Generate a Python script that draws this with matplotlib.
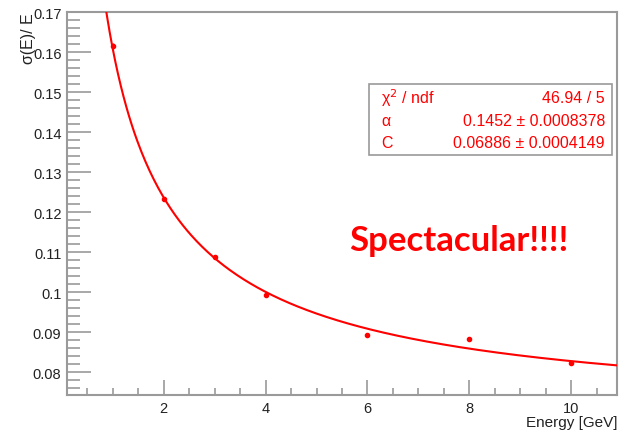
import numpy as np
import matplotlib
matplotlib.use("Agg")
import matplotlib.pyplot as plt
from matplotlib.ticker import MultipleLocator, FuncFormatter

# measured points (energy in GeV, relative resolution)
energy = [1, 2, 3, 4, 6, 8, 10]
resolution = [0.1615, 0.1233, 0.1088, 0.0993, 0.0893, 0.0884, 0.0824]
res_err = [0.0008, 0.0006, 0.0005, 0.0005, 0.0003, 0.0003, 0.0003]

# fit parameters from the stats box
alpha = 0.1452
const_c = 0.06886
stat_rows = [("χ$^{2}$ / ndf", "46.94 / 5"),
             ("α", "0.1452 ± 0.0008378"),
             ("C", "0.06886 ± 0.0004149")]

plt.rcParams['font.family'] = ['Liberation Sans', 'DejaVu Sans']
frame_col = '#9a9a9a'
text_col = '#222222'

fig = plt.figure(figsize=(6.29, 4.31), dpi=100)
ax = fig.add_axes([0.1065, 0.0812, 0.8745, 0.8886])

# fit curve sigma/E = sqrt(alpha^2/E + C^2)
e_fit = np.linspace(0.1, 10.9, 400)
ax.plot(e_fit, np.sqrt(alpha**2 / e_fit + const_c**2), color='red', lw=1.5, zorder=3)
ax.errorbar(energy, resolution, yerr=res_err, fmt='o', ms=3, color='red',
            elinewidth=1, capsize=0, zorder=4)

ax.set_xlim(0.1, 10.9)
ax.set_ylim(0.0743, 0.17)
ax.xaxis.set_major_locator(MultipleLocator(2))
ax.xaxis.set_minor_locator(MultipleLocator(0.5))
ax.yaxis.set_major_locator(MultipleLocator(0.01))
ax.yaxis.set_minor_locator(MultipleLocator(0.002))
ax.yaxis.set_major_formatter(FuncFormatter(lambda v, p: "0.1" if abs(v - 0.1) < 1e-9 else f"{v:.2f}"))
ax.tick_params(which='both', direction='in', colors=frame_col, labelcolor=text_col,
               labelsize=10.5, width=1.2)
ax.tick_params(axis='y', which='major', length=17, pad=4)
ax.tick_params(axis='y', which='minor', length=9)
ax.tick_params(axis='x', which='major', length=11, pad=4)
ax.tick_params(axis='x', which='minor', length=5)
for s in ax.spines.values():
    s.set_color(frame_col)
    s.set_linewidth(1.5)

ax.set_xlabel("Energy [GeV]", fontsize=11, color=text_col, loc='right', labelpad=0)
ax.set_ylabel("σ(E)/ E", fontsize=11.5, color=text_col, loc='top', labelpad=-2)

# stats box
box = plt.Rectangle((0.549, 0.627), 0.442, 0.185, transform=ax.transAxes,
                    fill=True, facecolor='white', edgecolor=frame_col, lw=1.2, zorder=5)
ax.add_patch(box)
for i, (name, val) in enumerate(stat_rows):
    y = 0.778 - i * 0.06
    ax.text(0.571, y, name, transform=ax.transAxes, color='red', fontsize=11.5,
            va='center', ha='left', zorder=6)
    ax.text(0.978, y, val, transform=ax.transAxes, color='red', fontsize=11.5,
            va='center', ha='right', zorder=6)

fig.text(0.555, 0.441, "Spectacular!!!!", color='#ff0000', fontsize=25,
         fontweight='bold', family=['Lato', 'DejaVu Sans'], va='center', ha='left')

fig.savefig("out.png", dpi=100)
